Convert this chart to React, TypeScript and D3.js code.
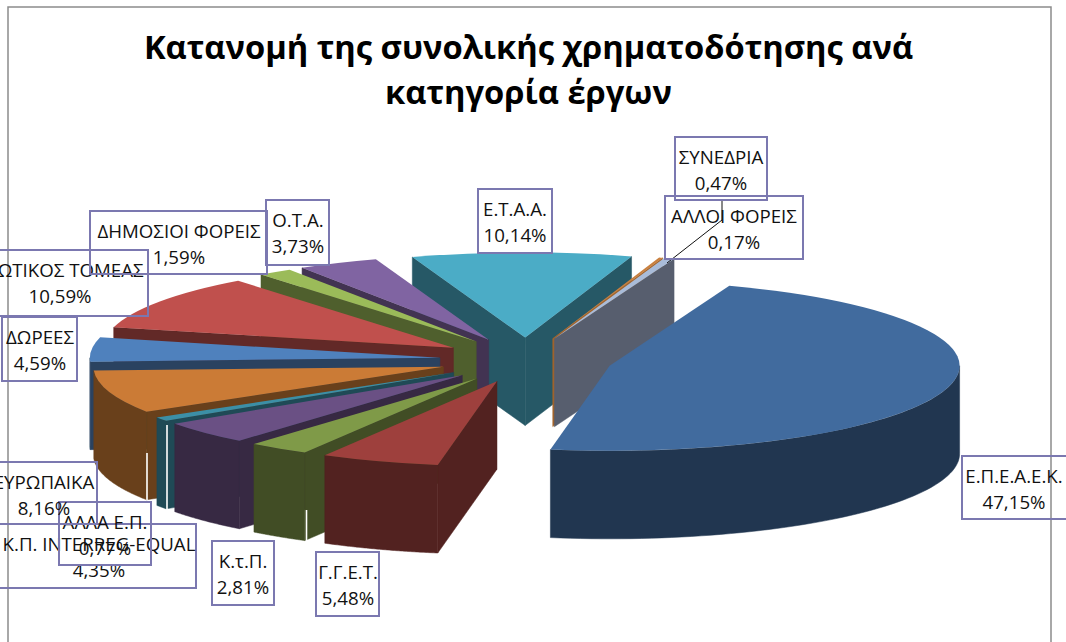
import React from "react";
import * as d3 from "d3";

// --- data (order is clockwise, as in the source chart) ---
const names = ["Ε.Π.Ε.Α.Ε.Κ.", "Γ.Γ.Ε.Τ.", "Κ.τ.Π.", "Κ.Π. INTERREG-EQUAL", "ΑΛΛΑ Ε.Π.", "ΕΥΡΩΠΑΙΚΑ", "ΔΩΡΕΕΣ", "ΙΔΙΩΤΙΚΟΣ ΤΟΜΕΑΣ", "ΔΗΜΟΣΙΟΙ ΦΟΡΕΙΣ", "Ο.Τ.Α.", "Ε.Τ.Α.Α.", "ΑΛΛΟΙ ΦΟΡΕΙΣ", "ΣΥΝΕΔΡΙΑ"];
const shares = [47.15, 5.48, 2.81, 4.35, 0.77, 8.16, 4.59, 10.59, 1.59, 3.73, 10.14, 0.17, 0.47];
const shareLabels = ["47,15%", "5,48%", "2,81%", "4,35%", "0,77%", "8,16%", "4,59%", "10,59%", "1,59%", "3,73%", "10,14%", "0,17%", "0,47%"];
const titleLines = ["Κατανομή της συνολικής χρηματοδότησης ανά", "κατηγορία έργων"];

// --- styles ---
const topColors = ["#416b9e", "#9e403d", "#7f9a48", "#6a5084", "#3c8fa6", "#cb7b36", "#4f81bd", "#c0504d", "#9bbb59", "#8064a2", "#4bacc6", "#c9803f", "#a9bcd9"];
const wallColors = ["#213650", "#522220", "#414d25", "#372943", "#1f4a56", "#69401b", "#2a4260", "#622927", "#4f5f2d", "#423352", "#265866", "#a5652b", "#575e6e"];

// --- layout: label boxes [left, top, right, bottom, text centre] ---
const labelBoxes = [
  [962, 456, 1068, 519, 1014],
  [316, 552, 379, 616, 348],
  [212, 541, 274, 605, 243],
  [-2, 524, 196, 588, 99],
  [59, 502, 151, 565, 105],
  [-9, 462, 97, 524, 44],
  [2, 317, 77, 381, 40],
  [-28, 250, 148, 316, 60],
  [90, 211, 267, 274, 179],
  [266, 200, 329, 265, 298],
  [478, 189, 552, 253, 515],
  [665, 196, 803, 259, 734],
  [675, 137, 767, 200, 721],
];
const leader = [[722, 199], [722, 220], [667, 263]];
// thin white seams between the wall pieces: [x, top, bottom]
const seams = [[147, 453, 500], [167, 425, 511], [306.5, 510, 542]];

const CX = 526, CY = 360, EX = 86.5, EY = 22.5, R = 350, K = 0.243, DEPTH = 88;
const FIRST_ANGLE = (20 * Math.PI) / 180;

const slices = d3.pie<number>().sort(null).startAngle(FIRST_ANGLE).endAngle(FIRST_ANGLE + 2 * Math.PI)(shares);
const sector = d3.arc<any>().innerRadius(0).outerRadius(R);
const pathLine = d3.line();

function rim(ax: number, ay: number, t: number, dz = 0): [number, number] {
  return [ax + R * Math.sin(t), ay - R * K * Math.cos(t) + dz];
}

function Slice({ s }: { s: any }) {
  const i = s.index;
  const mid = (s.startAngle + s.endAngle) / 2;
  const ax = CX + EX * Math.sin(mid);
  const ay = CY - EY * Math.cos(mid);
  const a = s.startAngle, b = s.endAngle;
  const wall = (t: number) =>
    pathLine([[ax, ay], rim(ax, ay, t), rim(ax, ay, t, DEPTH), [ax, ay + DEPTH]]) + "Z";
  // outer wall: only the part of the rim that faces the viewer
  const walls: string[] = [];
  const twoPi = 2 * Math.PI;
  for (const shift of [0, twoPi]) {
    const lo = Math.max(a, Math.PI / 2 + shift);
    const hi = Math.min(b, (3 * Math.PI) / 2 + shift);
    if (hi > lo) {
      const ts = d3.range(0, 61).map((n) => lo + ((hi - lo) * n) / 60);
      const up = ts.map((t) => rim(ax, ay, t));
      const down = ts.slice().reverse().map((t) => rim(ax, ay, t, DEPTH));
      walls.push(pathLine([...up, ...down]) + "Z");
    }
  }
  const fill = wallColors[i];
  return (
    <g>
      {Math.sin(a) < 0 && <path d={wall(a)} fill={fill} stroke={fill} strokeWidth={0.5} />}
      {Math.sin(b) > 0 && <path d={wall(b)} fill={fill} stroke={fill} strokeWidth={0.5} />}
      {walls.map((d, n) => <path key={n} d={d} fill={fill} stroke={fill} strokeWidth={0.5} />)}
      <path
        d={sector(s) as string}
        transform={`translate(${ax},${ay}) scale(1,${K})`}
        fill={topColors[i]}
      />
    </g>
  );
}

export default function App() {
  const order = slices.slice().sort(
    (p, q) => Math.cos((q.startAngle + q.endAngle) / 2) - Math.cos((p.startAngle + p.endAngle) / 2)
  );
  const font = "'Open Sans', sans-serif";
  return (
    <svg width={1066} height={642} style={{ position: "absolute", left: 0, top: 0, background: "#fff" }}>
      <path d="M8,642V7H1051V642" fill="none" stroke="#8c8c8c" strokeWidth={1.5} />
      {titleLines.map((t, i) => (
        <text key={i} x={528.5} y={59 + i * 45} textAnchor="middle" fontFamily={font} fontWeight={700} fontSize={32.7} fill="#000">{t}</text>
      ))}
      {order.map((s) => <Slice key={s.index} s={s} />)}
      {seams.map(([x, y1, y2], i) => (
        <line key={i} x1={x} x2={x} y1={y1} y2={y2} stroke="#fff" strokeWidth={1.6} />
      ))}
      <path d={pathLine(leader as any) as string} fill="none" stroke="#111" strokeWidth={1} />
      {labelBoxes.map(([l, t, r, b, c], i) => (
        <g key={i}>
          <rect x={l} y={t} width={r - l} height={b - t} fill="none" stroke="#7b78b0" strokeWidth={2} />
          <text x={c} y={t + 26.5} textAnchor="middle" fontFamily={font} fontSize={18.7} fill="#111">{names[i]}</text>
          <text x={c} y={t + 52.5} textAnchor="middle" fontFamily={font} fontSize={18.7} fill="#111">{shareLabels[i]}</text>
        </g>
      ))}
    </svg>
  );
}
